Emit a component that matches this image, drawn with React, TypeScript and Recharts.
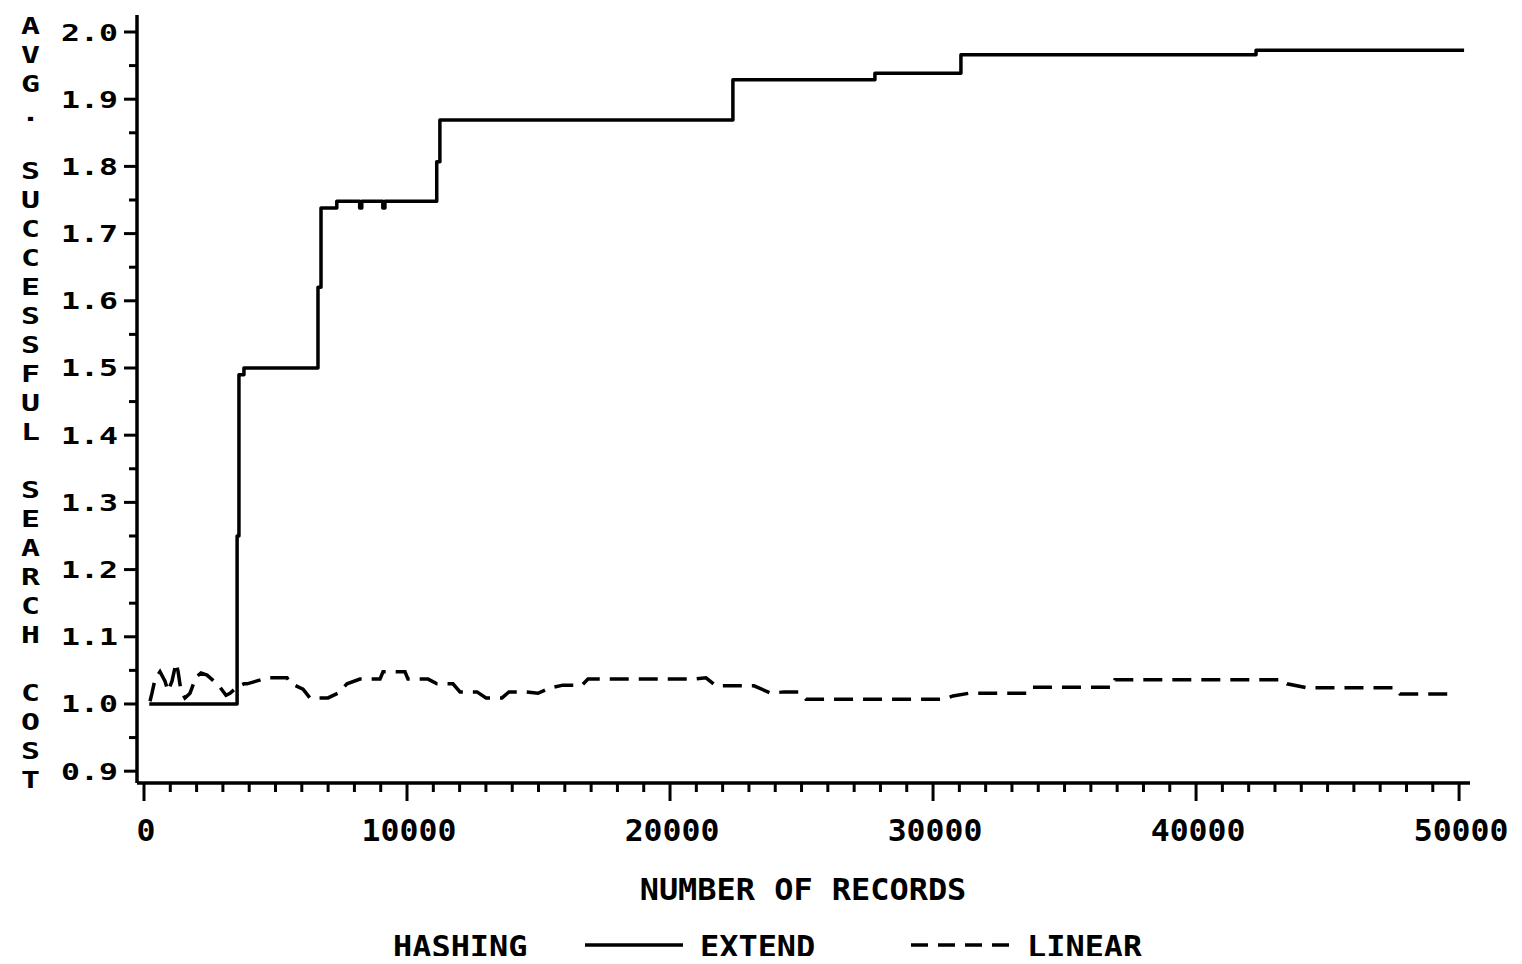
import React from 'react';
import { LineChart, Line, XAxis, YAxis, Legend } from 'recharts';

// EXTEND hashing: record count where each step starts, and the cost held from there on
const EXTEND_RECORDS = [200, 3540, 3610, 3800, 6615, 6730, 7330, 8200, 8280, 9080, 9160, 11130, 11250, 22390, 27790, 31060, 42280, 50190];
const EXTEND_COST = [1.0, 1.25, 1.49, 1.5, 1.62, 1.738, 1.748, 1.738, 1.748, 1.738, 1.748, 1.807, 1.869, 1.929, 1.9385, 1.966, 1.973, 1.973];

// LINEAR hashing: cost traced along the number of records
const LINEAR_RECORDS = [
  228, 304, 418, 608, 798, 912, 1065, 1217, 1293, 1407, 1559, 1749, 1977, 2167, 2395, 2661, 2890, 3118,
  3270, 3536, 3800, 3916, 4714, 5437, 5551, 6045, 6311, 6996, 7376, 7718, 8212, 8973, 9087, 9923, 10037,
  10798, 11140, 11748, 12014, 12661, 13003, 13611, 13877, 14486, 14980, 15436, 15930, 16653, 16881, 20873,
  21367, 21748, 22850, 23192, 23839, 24333, 24903, 25169, 30416, 30758, 31367, 33610, 33762, 36842, 36918,
  43267, 43457, 44217, 47602, 47754, 49844,
];
const LINEAR_COST = [
  1.004, 1.016, 1.037, 1.048, 1.034, 1.019, 1.034, 1.061, 1.049, 1.019, 1.009, 1.016, 1.04, 1.046, 1.043, 1.034, 1.025, 1.013,
  1.016, 1.025, 1.03, 1.03, 1.039, 1.039, 1.031, 1.022, 1.009, 1.009, 1.016, 1.03, 1.037, 1.037, 1.048, 1.048, 1.037,
  1.037, 1.03, 1.03, 1.018, 1.018, 1.009, 1.009, 1.018, 1.018, 1.016, 1.024, 1.028, 1.028, 1.037, 1.037,
  1.039, 1.027, 1.027, 1.027, 1.016, 1.018, 1.018, 1.007, 1.007, 1.012, 1.016, 1.016, 1.025, 1.025, 1.036,
  1.036, 1.03, 1.024, 1.024, 1.015, 1.015,
];

const X_MAJOR_TICKS = [0, 10000, 20000, 30000, 40000, 50000];
const X_TICK_LABELS = ['0', '10000', '20000', '30000', '40000', '50000'];
const X_MINOR_STEP = 1000;

const Y_MAJOR_TICKS = [0.9, 1.0, 1.1, 1.2, 1.3, 1.4, 1.5, 1.6, 1.7, 1.8, 1.9, 2.0];
const Y_TICK_LABELS = ['0.9', '1.0', '1.1', '1.2', '1.3', '1.4', '1.5', '1.6', '1.7', '1.8', '1.9', '2.0'];
const Y_MINOR_TICKS = [0.95, 1.05, 1.15, 1.25, 1.35, 1.45, 1.55, 1.65, 1.75, 1.85, 1.95];

const SERIES_EXTEND = 'EXTEND';
const SERIES_LINEAR = 'LINEAR';
const LEGEND_TITLE = 'HASHING';
const X_TITLE = 'NUMBER OF RECORDS';
const Y_TITLE = 'AVG. SUCCESSFUL SEARCH COST';

const extendData = EXTEND_RECORDS.map((n, i) => ({ n, v: EXTEND_COST[i] }));
const linearData = LINEAR_RECORDS.map((n, i) => ({ n, v: LINEAR_COST[i] }));

const xMinor: number[] = [];
for (let k = X_MINOR_STEP; k < 50000; k += X_MINOR_STEP) {
  if (k % 10000 !== 0) xMinor.push(k);
}
const xTicks = [...X_MAJOR_TICKS, ...xMinor].sort((a, b) => a - b);
const yTicks = [...Y_MAJOR_TICKS, ...Y_MINOR_TICKS].sort((a, b) => a - b);

const W = 1506;
const H = 948;
const FONT = "'DejaVu Sans Mono', monospace";
const INK = '#000';

const YTick = (props: any) => {
  const { x, y, payload } = props;
  const idx = Y_MAJOR_TICKS.findIndex((t) => Math.abs(t - payload.value) < 1e-6);
  const major = idx >= 0;
  return (
    <g>
      <line x1={x - (major ? 13 : 8)} x2={x} y1={y} y2={y} stroke={INK} strokeWidth={3} />
      {major && (
        <text
          transform={`translate(${x - 19},${y + 8.5}) scale(1.37,1)`}
          textAnchor="end"
          fontFamily={FONT}
          fontWeight="bold"
          fontSize={23}
          fill={INK}
        >
          {Y_TICK_LABELS[idx]}
        </text>
      )}
    </g>
  );
};

const XTick = (props: any) => {
  const { x, y, payload } = props;
  const idx = X_MAJOR_TICKS.indexOf(payload.value);
  const major = idx >= 0;
  return (
    <g>
      <line x1={x} x2={x} y1={y} y2={y + (major ? 18 : 9)} stroke={INK} strokeWidth={3} />
      {major && (
        <text
          transform={`translate(${x + 2},${y + 58}) scale(1.05,1)`}
          textAnchor="middle"
          fontFamily={FONT}
          fontWeight="bold"
          fontSize={30}
          fill={INK}
        >
          {X_TICK_LABELS[idx]}
        </text>
      )}
    </g>
  );
};

// Upright letters stacked down the left edge
const YTitle = () => (
  <g>
    {Y_TITLE.split('').map((ch, i) =>
      ch === ' ' ? null : (
        <text
          key={i}
          transform={`translate(22.5,${17.5 + i * 29 + 8.5}) scale(1.37,1)`}
          textAnchor="middle"
          fontFamily={FONT}
          fontWeight="bold"
          fontSize={23}
          fill={INK}
        >
          {ch}
        </text>
      )
    )}
  </g>
);

const XTitle = () => (
  <text
    transform="translate(795,892) scale(1.03,1)"
    textAnchor="middle"
    fontFamily={FONT}
    fontWeight="bold"
    fontSize={31}
    fill={INK}
  >
    {X_TITLE}
  </text>
);

const LegendContent = () => {
  const txt = (x: number, s: string) => (
    <text
      transform={`translate(${x},49) scale(1.03,1)`}
      fontFamily={FONT}
      fontWeight="bold"
      fontSize={31}
      fill={INK}
    >
      {s}
    </text>
  );
  return (
    <svg width={W} height={60} style={{ display: 'block' }}>
      {txt(385, LEGEND_TITLE)}
      <line x1={577} x2={675} y1={37} y2={37} stroke={INK} strokeWidth={3.5} />
      {txt(692, SERIES_EXTEND)}
      <line x1={903} x2={1002} y1={37} y2={37} stroke={INK} strokeWidth={3.5} strokeDasharray="17 10" />
      {txt(1019, SERIES_LINEAR)}
    </svg>
  );
};

export default function App() {
  return (
    <div style={{ width: W, height: H, background: '#fff' }}>
      <LineChart width={W} height={H} margin={{ top: 7, right: 44, left: 0, bottom: 0 }}>
        <XAxis
          type="number"
          dataKey="n"
          domain={[-266, 50415]}
          allowDataOverflow
          ticks={xTicks}
          interval={0}
          height={173}
          tickSize={0}
          tickMargin={0}
          tickLine={false}
          axisLine={{ stroke: INK, strokeWidth: 3.5 }}
          tick={<XTick />}
          label={<XTitle />}
        />
        <YAxis
          type="number"
          domain={[0.8824, 2.0253]}
          allowDataOverflow
          ticks={yTicks}
          interval={0}
          width={129}
          tickSize={0}
          tickMargin={0}
          tickLine={false}
          axisLine={{ stroke: INK, strokeWidth: 3.5 }}
          tick={<YTick />}
          label={<YTitle />}
        />
        <Legend
          layout="horizontal"
          verticalAlign="middle"
          align="center"
          wrapperStyle={{ left: 0, top: 900, width: W, height: 60 }}
          content={<LegendContent />}
        />
        <Line
          name={SERIES_EXTEND}
          data={extendData}
          dataKey="v"
          type="stepAfter"
          stroke={INK}
          strokeWidth={3.5}
          strokeLinejoin="round"
          dot={false}
          activeDot={false}
          isAnimationActive={false}
        />
        <Line
          name={SERIES_LINEAR}
          data={linearData}
          dataKey="v"
          type="linear"
          stroke={INK}
          strokeWidth={3.5}
          strokeDasharray="19 10"
          dot={false}
          activeDot={false}
          isAnimationActive={false}
        />
      </LineChart>
    </div>
  );
}
